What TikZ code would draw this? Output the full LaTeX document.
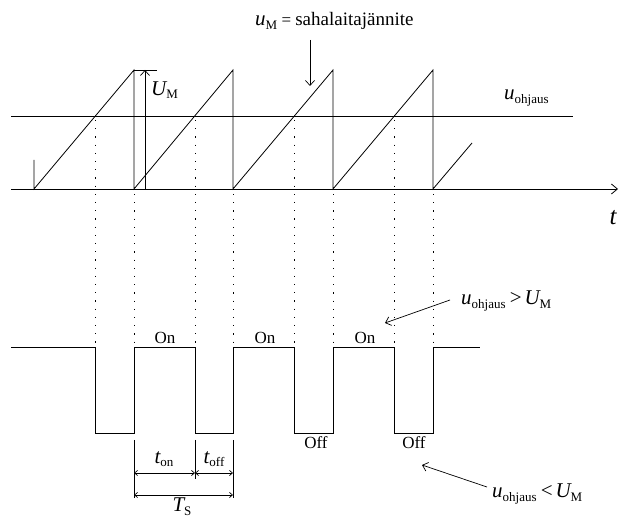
\documentclass[tikz,border=0pt]{standalone}
\usepackage{fontspec}
\setmainfont{Liberation Serif}
\usetikzlibrary{arrows.meta}
\newcommand\vr[1]{{\fontsize{21}{22}\selectfont\itshape #1}}
\newcommand\sbs[1]{\raisebox{-0.45ex}{\fontsize{13}{14}\selectfont #1}}
\tikzset{
  wave/.style={line width=0.8pt},
  dots/.style={line width=0.9pt, dash pattern=on 1.2pt off 7pt},
  lbl/.style={inner sep=0pt, font=\fontsize{17}{19}\selectfont},
  openarrow/.style={line width=0.7pt, -{Straight Barb[length=5pt,width=9pt]}},
  dimarrow/.style={line width=0.7pt, {Straight Barb[length=3pt,width=5pt]}-{Straight Barb[length=3pt,width=5pt]}},
}
\begin{document}
\begin{tikzpicture}[x=1pt,y=-1pt]
\useasboundingbox (0,0) rectangle (619,518);
% axis
\coordinate (ax0) at (11,189);
\coordinate (ax1) at (618,189);
\draw[wave,-{Straight Barb[length=6pt,width=10pt]}] (ax0) -- (ax1);
% control line
\coordinate (c0) at (11,116);
\coordinate (c1) at (573,116);
\draw[wave] (c0) -- (c1);
% sawtooth
\draw[wave] (34,160) -- (34,189) -- (134,70) -- (134,189) -- (233,70) -- (233,189)
  -- (333,70) -- (333,189) -- (433,70) -- (433,189) -- (472,143);
% U_M indicator
\draw[wave] (134,70) -- (157,70);
\coordinate (um0) at (145,189);
\coordinate (um1) at (145,70);
\draw[openarrow] (um0) -- (um1);
\node[lbl,anchor=west] (lblUM) at (151,90) {\vr{U}\sbs{M}};
% dotted projections
\foreach \x in {95.3,195,294.6,394.6} \draw[dots] (\x,120) -- (\x,347);
\foreach \x in {134,233,333,433} \draw[dots] (\x,194) -- (\x,347);
% pulse train
\draw[wave] (11,347) -- (95.3,347) -- (95.3,433) -- (134,433) -- (134,347) -- (195,347)
  -- (195,433) -- (233,433) -- (233,347) -- (294.6,347) -- (294.6,433) -- (333,433)
  -- (333,347) -- (394.6,347) -- (394.6,433) -- (433,433) -- (433,347) -- (480,347);
% labels On / Off
\node[lbl] (on1) at (165,338) {On};
\node[lbl] (on2) at (265,338) {On};
\node[lbl] (on3) at (365,338) {On};
\node[lbl] (off1) at (316,443) {Off};
\node[lbl] (off2) at (414,443) {Off};
% dimension lines
\draw[wave] (134,440) -- (134,498);
\draw[wave] (195,440) -- (195,479);
\draw[wave] (233,440) -- (233,498);
\coordinate (d1) at (134,473);
\coordinate (d2) at (195,473);
\coordinate (d3) at (233,473);
\coordinate (e1) at (134,495);
\coordinate (e2) at (233,495);
\draw[dimarrow] (d1) -- (d2);
\draw[dimarrow] (d2) -- (d3);
\draw[dimarrow] (e1) -- (e2);
\node[lbl] (ton) at (164,459) {\vr{t}\sbs{on}};
\node[lbl] (toff) at (214,459) {\vr{t}\sbs{off}};
\node[lbl,anchor=base] (ts) at (182,512) {\vr{T}\sbs{S}};
% top label
\node[lbl,anchor=base west] (lblM) at (255,26) {\vr{u}\sbs{M} = {\fontsize{19}{20}\selectfont sahalaitajännite}};
\coordinate (aM0) at (310,40);
\coordinate (aM1) at (310,86);
\draw[openarrow] (aM0) -- (aM1);
% control label
\node[lbl,anchor=base west] (lblc) at (504,100) {\vr{u}\sbs{ohjaus}};
% t label
\node[lbl] (lblt) at (613,218) {\fontsize{25}{26}\selectfont\itshape t};
% conditions
\node[lbl,anchor=base west] (gt) at (461,305) {\vr{u}\sbs{ohjaus} \vr{\upshape >}\,\vr{U}\sbs{M}};
\coordinate (g0) at (450,300);
\coordinate (g1) at (385,323);
\draw[openarrow] (g0) -- (g1);
\node[lbl,anchor=base west] (lt) at (492,498) {\vr{u}\sbs{ohjaus} \vr{\upshape <}\,\vr{U}\sbs{M}};
\coordinate (l0) at (487,487);
\coordinate (l1) at (422,465);
\draw[openarrow] (l0) -- (l1);
\end{tikzpicture}
\end{document}
